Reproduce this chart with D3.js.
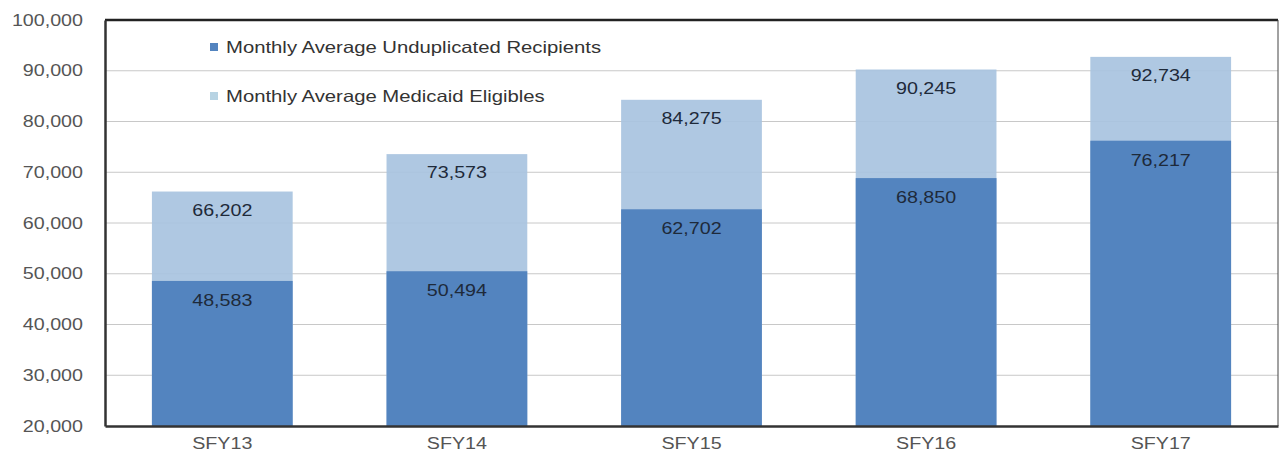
<!DOCTYPE html>
<html><head><meta charset="utf-8">
<script src="https://cdn.jsdelivr.net/npm/d3@7/dist/d3.min.js"></script>
<style>body{margin:0;background:#fff;} svg{display:block;}</style>
</head><body>
<div id="chart"></div>
<script>
const categories = ["SFY13","SFY14","SFY15","SFY16","SFY17"];
const recipients = [48583, 50494, 62702, 68850, 76217];
const eligibles = [66202, 73573, 84275, 90245, 92734];
const seriesNames = ["Monthly Average Unduplicated Recipients","Monthly Average Medicaid Eligibles"];
const yTicks = [20000,30000,40000,50000,60000,70000,80000,90000,100000];

const W = 1281, H = 461;
const m = {left:105, right:3, top:20, bottom:35};
const SX = 1.23;
const svg = d3.select("#chart").append("svg").attr("width",W).attr("height",H);
const x = d3.scaleBand().domain(categories).range([m.left, W-m.right]).paddingInner(0.4).paddingOuter(0.2);
const y = d3.scaleLinear().domain([20000,100000]).range([H-m.bottom, m.top]);
const font = "Liberation Sans, Arial, sans-serif";
const darkC = "#5384bf", lightC = "#a8c3df";

// gridlines
svg.append("g").selectAll("line").data(yTicks.slice(1,-1)).join("line")
  .attr("x1",m.left).attr("x2",W-m.right).attr("y1",d=>y(d)).attr("y2",d=>y(d))
  .attr("stroke","#c8c8c8").attr("stroke-width",1);

// light bars
svg.append("g").selectAll("rect").data(categories).join("rect")
  .attr("x",d=>x(d)).attr("width",x.bandwidth())
  .attr("y",(d,i)=>y(eligibles[i])).attr("height",(d,i)=>y(20000)-y(eligibles[i]))
  .attr("fill",lightC).attr("opacity",0.92);
// dark bars
svg.append("g").selectAll("rect").data(categories).join("rect")
  .attr("x",d=>x(d)).attr("width",x.bandwidth())
  .attr("y",(d,i)=>y(recipients[i])).attr("height",(d,i)=>y(20000)-y(recipients[i]))
  .attr("fill",darkC);

// value labels (horizontally stretched like the reference)
const fmt = d3.format(",");
function stretched(sel, fx, fy){
  sel.attr("transform",(d,i)=>`translate(${fx(d,i)},${fy(d,i)}) scale(${SX},1)`);
}
svg.append("g").selectAll("text").data(categories).join("text")
  .call(stretched, d=>x(d)+x.bandwidth()/2, (d,i)=>y(eligibles[i])+24)
  .attr("text-anchor","middle").attr("font-family",font).attr("font-size",16).attr("fill","#1e2a3a")
  .text((d,i)=>fmt(eligibles[i]));
svg.append("g").selectAll("text").data(categories).join("text")
  .call(stretched, d=>x(d)+x.bandwidth()/2, (d,i)=>y(recipients[i])+25)
  .attr("text-anchor","middle").attr("font-family",font).attr("font-size",16).attr("fill","#1e2a3a")
  .text((d,i)=>fmt(recipients[i]));

// frame
svg.append("line").attr("x1",m.left).attr("x2",W-m.right).attr("y1",y(100000)).attr("y2",y(100000)).attr("stroke","#222").attr("stroke-width",2.5);
svg.append("line").attr("x1",W-m.right).attr("x2",W-m.right).attr("y1",y(100000)).attr("y2",y(20000)).attr("stroke","#444").attr("stroke-width",1);

// axes
const yAxis = svg.append("g").attr("transform",`translate(${m.left},0)`)
  .call(d3.axisLeft(y).tickValues(yTicks).tickFormat(fmt).tickSize(0).tickPadding(22));
yAxis.select(".domain").attr("stroke","#333").attr("stroke-width",2.5);
yAxis.selectAll(".tick text").attr("font-family",font).attr("font-size",16).attr("fill","#555")
  .attr("x",0).attr("transform",`translate(-22,0) scale(${SX},1)`);
const xAxis = svg.append("g").attr("transform",`translate(0,${y(20000)})`)
  .call(d3.axisBottom(x).tickSize(0).tickPadding(12));
xAxis.select(".domain").attr("stroke","#333").attr("stroke-width",2.5);
xAxis.selectAll(".tick text").attr("font-family",font).attr("font-size",16).attr("fill","#555")
  .attr("transform",`scale(${SX},1)`);

// legend
const leg = svg.append("g");
[darkC, "#b7d3e3"].forEach((c,i)=>{
  const ly = 47 + i*49;
  leg.append("rect").attr("x",210).attr("y",ly-4).attr("width",8).attr("height",8).attr("fill",c);
  leg.append("text").attr("transform",`translate(226,${ly+6}) scale(${SX},1)`)
    .attr("font-family",font).attr("font-size",16.5).attr("fill","#333").text(seriesNames[i]);
});
</script>
</body></html>
